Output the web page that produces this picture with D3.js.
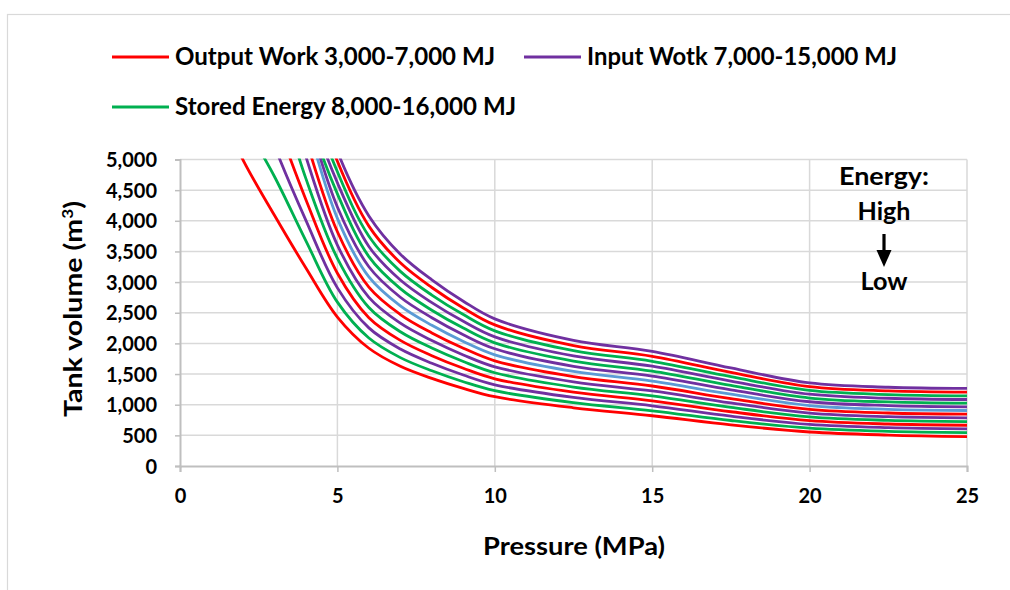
<!DOCTYPE html>
<html><head><meta charset="utf-8">
<script src="https://cdn.jsdelivr.net/npm/d3@7"></script>
<style>
html,body{margin:0;padding:0;background:#fff;}
text{font-family:Lato,"Open Sans",sans-serif;font-weight:bold;fill:#000;}
</style></head>
<body>
<svg id="chart" width="1010" height="590"></svg>
<script>
// ---- data ----
const pressure = [1,2,3,4,5,6,7,8,9,10,12.5,15,17.5,20,22.5,25];
const c01 = [6102,4995,4090,3230,2430,1921,1627,1429,1266,1130,950,820,670,555,505,480];
const c02 = [6700,5646,4723,3673,2673,2088,1768,1553,1375,1228,1035,901,742,617,565,545];
const c03 = [8000,6600,5218,4006,2906,2253,1908,1676,1484,1325,1119,982,813,678,625,605];
const c04 = [8600,7100,5710,4345,3145,2419,2049,1800,1594,1423,1204,1062,885,740,685,665];
const c05 = [9500,7900,6330,4688,3388,2586,2190,1924,1704,1521,1288,1143,956,801,745,725];
const c06 = [10200,8600,6850,5045,3604,2751,2330,2047,1812,1618,1373,1224,1028,863,805,785];
const c07 = [10600,9000,7200,5332,3821,2917,2471,2171,1922,1716,1458,1305,1099,924,865,845];
const c08 = [11000,9400,7600,5668,4040,3084,2612,2295,2032,1814,1542,1385,1171,986,925,905];
const c09 = [11200,9600,7700,5806,4225,3250,2753,2419,2141,1912,1627,1466,1242,1048,985,965];
const c10 = [11300,9700,7800,5840,4440,3415,2893,2541,2250,2009,1712,1547,1314,1109,1045,1025];
const c11 = [11700,10000,8000,6026,4621,3582,3034,2665,2360,2107,1796,1628,1385,1171,1105,1085];
const c12 = [12000,10200,8200,6236,4799,3749,3175,2789,2470,2205,1881,1708,1457,1232,1165,1145];
const c13 = [12300,10400,8450,6500,4970,3913,3315,2912,2578,2302,1965,1789,1528,1294,1225,1205];
const c14 = [12600,10700,8700,6700,5130,4080,3456,3036,2688,2400,2050,1870,1600,1355,1285,1265];
const curveKinds = ["out","sto","in","out","sto","in","out","extra","in","sto","in","sto","out","in"];
const legendLabels = ["Output Work 3,000-7,000 MJ","Input Wotk 7,000-15,000 MJ","Stored Energy 8,000-16,000 MJ"];
const legendKinds = ["out","in","sto"];
const xTicks = [0,5,10,15,20,25];
const yTicks = [0,500,1000,1500,2000,2500,3000,3500,4000,4500,5000];
const annotation = ["Energy:","High","Low"];

const colors = {out:"#ff0000", in:"#7030a0", sto:"#00b050", extra:"#5b9bd5"};
const curves = [c01,c02,c03,c04,c05,c06,c07,c08,c09,c10,c11,c12,c13,c14];

// ---- layout ----
const svg = d3.select("#chart");
const L=180, R=967, T=159.5, B=466;
const x = d3.scaleLinear().domain([0,25]).range([L,R]);
const y = d3.scaleLinear().domain([0,5000]).range([B,T]);

// outer chart border
svg.append("rect").attr("x",7.5).attr("y",14.5).attr("width",1010).attr("height",600)
  .attr("fill","none").attr("stroke","#d9d9d9").attr("stroke-width",1.2);

// gridlines
const grid = svg.append("g");
grid.selectAll("line.h").data(yTicks.filter(d=>d>0)).join("line")
  .attr("x1",L).attr("x2",R).attr("y1",d=>y(d)).attr("y2",d=>y(d))
  .attr("stroke","#d9d9d9").attr("stroke-width",1.5);
grid.selectAll("line.v").data(xTicks.filter(d=>d>0)).join("line")
  .attr("y1",T).attr("y2",B).attr("x1",d=>x(d)).attr("x2",d=>x(d))
  .attr("stroke","#d9d9d9").attr("stroke-width",1.5);

// axes
const xAxis = svg.append("g").attr("transform",`translate(0,${B})`)
  .call(d3.axisBottom(x).tickValues(xTicks).tickSize(6).tickPadding(17).tickFormat(d3.format("d")));
xAxis.select(".domain").attr("stroke","#bfbfbf").attr("stroke-width",2);
xAxis.selectAll(".tick line").attr("stroke","#bfbfbf").attr("stroke-width",1.5);
xAxis.selectAll("text").attr("font-size",20).attr("font-family","Lato").attr("font-weight","bold").attr("fill","#000");

const yAxis = svg.append("g").attr("transform",`translate(${L},0)`)
  .call(d3.axisLeft(y).tickValues(yTicks).tickSize(5).tickPadding(18).tickFormat(d3.format(",")));
yAxis.select(".domain").attr("stroke","#bfbfbf").attr("stroke-width",2);
yAxis.selectAll(".tick line").attr("stroke","#bfbfbf").attr("stroke-width",1.5);
yAxis.selectAll("text").attr("font-size",20).attr("font-family","Lato").attr("font-weight","bold").attr("fill","#000").attr("dy","0.35em");

// clip
svg.append("clipPath").attr("id","plotclip").append("rect")
  .attr("x",L).attr("y",T-1).attr("width",R-L+2).attr("height",B-T+1);

const line = d3.line().x((d,i)=>x(pressure[i])).y(d=>y(d)).curve(d3.curveCatmullRom.alpha(0.5));
svg.append("g").attr("clip-path","url(#plotclip)")
  .selectAll("path").data(curves).join("path")
  .attr("d",d=>line(d)).attr("fill","none")
  .attr("stroke",(d,i)=>colors[curveKinds[i]]).attr("stroke-width",2.8);

// axis titles
svg.append("text").attr("x",574).attr("y",555).attr("text-anchor","middle")
  .attr("font-size",25).attr("textLength",182).attr("lengthAdjust","spacingAndGlyphs").text("Pressure (MPa)");
svg.append("text").attr("transform","translate(82,309) rotate(-90)").attr("text-anchor","middle")
  .attr("font-size",25).attr("textLength",216).attr("lengthAdjust","spacingAndGlyphs")
  .html("Tank volume (m<tspan baseline-shift='super' font-size='15'>3</tspan>)");

// legend
const legendPos = [[112,57],[524,57],[112,107]];
const legendWidths = [320,310,341];
legendLabels.forEach((lab,i)=>{
  const [lx,ly] = legendPos[i];
  svg.append("line").attr("x1",lx).attr("x2",lx+57).attr("y1",ly).attr("y2",ly)
    .attr("stroke",colors[legendKinds[i]]).attr("stroke-width",3);
  svg.append("text").attr("x",lx+63).attr("y",ly+8).attr("font-size",24)
    .attr("textLength",legendWidths[i]).attr("lengthAdjust","spacingAndGlyphs").text(lab);
});

// annotation
const ax = 884;
svg.append("text").attr("x",ax).attr("y",185).attr("text-anchor","middle").attr("font-size",24)
  .attr("textLength",90).attr("lengthAdjust","spacingAndGlyphs").text(annotation[0]);
svg.append("text").attr("x",ax).attr("y",220).attr("text-anchor","middle").attr("font-size",24)
  .attr("textLength",53).attr("lengthAdjust","spacingAndGlyphs").text(annotation[1]);
svg.append("line").attr("x1",ax).attr("x2",ax).attr("y1",234).attr("y2",252).attr("stroke","#000").attr("stroke-width",3.2);
svg.append("path").attr("d",`M${ax-7.5},250 L${ax+7.5},250 L${ax},267 Z`).attr("fill","#000");
svg.append("text").attr("x",ax).attr("y",290).attr("text-anchor","middle").attr("font-size",24)
  .attr("textLength",47).attr("lengthAdjust","spacingAndGlyphs").text(annotation[2]);
</script>
</body></html>
